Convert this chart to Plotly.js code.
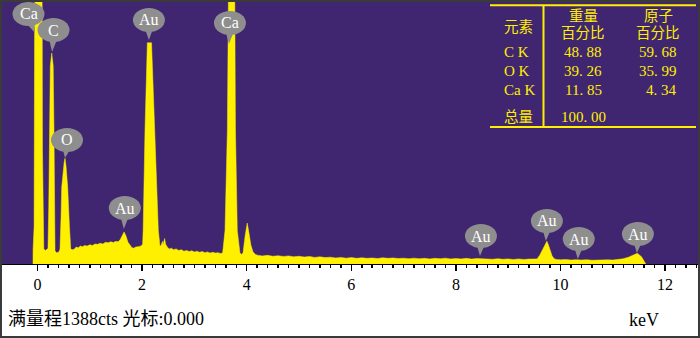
<!DOCTYPE html>
<html><head><meta charset="utf-8">
<script src="https://cdn.plot.ly/plotly-3.0.1.min.js"></script>
<style>
html,body{margin:0;padding:0;background:#fff;}
#frame{width:700px;height:338px;box-sizing:border-box;border:2px solid #3a3a3a;overflow:hidden;background:#fff;}
#chart{width:696px;height:334px;}
</style></head><body>
<div id="frame"><div id="chart"></div></div>
<script>
// ---- data (energy in keV, counts) ----
const energy = [
 -0.086,-0.085,-0.065,-0.058,-0.055,0.02,0.09,0.095,0.105,0.12,0.15,0.18,
 0.20,0.215,0.228,0.245,0.272,0.30,0.315,0.322,0.335,0.36,0.40,0.42,
 0.43,0.45,0.463,0.51,0.526,0.545,0.577,0.61,0.635,0.66,
 0.70,0.74,0.78,0.82,0.86,0.90,0.95,1.00,1.05,1.10,1.15,1.20,1.25,1.30,1.35,1.40,1.45,1.50,1.54,
 1.58,1.62,1.655,1.69,1.73,1.77,1.80,1.84,1.88,1.93,1.98,2.01,
 2.02,2.055,2.10,2.18,2.247,2.31,2.34,
 2.36,2.39,2.40,2.43,2.45,2.48,2.52,2.56,2.60,2.65,2.70,2.75,2.80,2.85,2.90,2.95,3.00,3.05,3.10,3.15,3.20,3.25,3.30,3.35,3.40,3.45,3.50,3.54,
 3.585,3.63,3.65,3.66,3.71,3.77,3.78,3.785,3.82,3.87,3.90,
 3.93,3.97,4.01,4.04,4.08,4.12,4.16,
 4.2,4.3,4.4,4.5,4.6,4.7,4.8,4.9,5.0,5.1,5.2,5.3,5.4,5.5,5.6,5.7,5.8,5.9,6.0,
 6.1,6.2,6.3,6.4,6.5,6.6,6.7,6.8,6.9,7.0,7.1,7.2,7.3,7.4,7.5,7.6,7.7,7.8,7.9,8.0,
 8.1,8.2,8.3,8.4,8.5,8.6,8.7,8.8,8.9,9.0,9.1,9.2,9.3,9.4,9.5,
 9.55,9.60,9.65,9.70,9.74,9.77,9.80,9.84,9.88,9.92,
 10.0,10.1,10.2,10.3,10.4,10.5,10.6,10.7,10.8,10.9,11.0,11.1,11.2,11.3,11.4,11.47,11.55,11.63
];
const counts = [
 0,75,200,600,1300,3800,1300,600,200,80,72,76,
 82,300,700,1050,1118,1050,700,300,70,60,62,70,
 82,250,406,540,560,520,406,200,82,75,
 78,90,86,95,92,98,95,102,98,106,104,110,106,115,112,118,114,120,118,
 128,155,170,150,115,100,88,84,90,92,96,105,
 178,709,1172,1172,709,178,98,
 95,120,100,135,105,90,80,84,76,80,72,76,68,72,66,70,64,68,62,66,60,64,58,62,58,60,56,58,
 178,709,1200,1500,3500,1500,1200,709,178,60,50,
 60,150,217,170,100,65,52,
 47,43,46,41,44,40,43,38,41,37,40,35,38,34,36,32,35,31,34,
 30,33,30,32,29,33,30,32,29,31,28,31,28,30,27,30,28,31,27,29,
 27,30,26,29,27,29,25,28,25,27,24,27,24,26,25,
 27,45,75,105,121,100,70,42,28,24,
 22,24,21,23,21,23,20,22,20,22,21,24,28,36,48,57,38,0
];
const fullScale = 1388;

// peak labels: name, tip energy (keV), tip counts
const peakNames = ['Ca','C','O','Au','Au','Ca','Au','Au','Au','Au'];
const peakTipE  = [-0.048,0.277,0.526,1.65,2.13,3.66,8.46,9.72,10.33,11.46];
const peakTipC  = [1224,1123,562,185,1187,1166,42,122,26,58];

// quantification table
const tableHeadElement = '元素';
const tableHeadWeight = ['重量','百分比'];
const tableHeadAtom = ['原子','百分比'];
const tableElements = ['C K','O K','Ca K'];
const weightPct = ['48. 88','39. 26','11. 85'];
const atomPct = ['59. 68','35. 99','4. 34'];
const totalLabel = '总量';
const totalWeight = '100. 00';

const xTickVals = [0,2,4,6,8,10,12];
const xTickText = ['0','2','4','6','8','10','12'];
const footerText = '满量程1388cts 光标:0.000';
const unitText = 'keV';

// ---- styling / geometry ----
const PURPLE = '#402570';
const YELLOW = '#fff000';
const BALLOON = '#8e8e8e';
const SERIF = '"Liberation Serif", "Times New Roman", "Noto Sans CJK SC", serif';
// label balloon centre offsets relative to tip (px, +up)
const balloonDx = [-6.5,1.5,2,1,0,1,1,1,1,1];
const balloonDy = [19,22,18,21,20,21,20,20,20,19];

// window pixel -> paper coordinates (plot area spans window x 2..698, y 2..264)
const px = X => (X - 2) / 696;
const py = Y => (264 - Y) / 262;

const minorVals = [];
for (let i = 0; i <= 63; i++) minorVals.push(+(i * 0.2).toFixed(2));

const shapes = [];
const annotations = [];

peakNames.forEach((name, i) => {
  const dx = balloonDx[i], dy = balloonDy[i];
  shapes.push({type:'path', xref:'x', yref:'y', xsizemode:'pixel', ysizemode:'pixel',
    xanchor: peakTipE[i], yanchor: peakTipC[i],
    path: `M ${dx-5},${dy-6} L 0,0 L ${dx+5},${dy-6} Z`,
    fillcolor: BALLOON, line:{width:0}, layer:'above'});
  shapes.push({type:'circle', xref:'x', yref:'y', xsizemode:'pixel', ysizemode:'pixel',
    xanchor: peakTipE[i], yanchor: peakTipC[i],
    x0: dx-16, x1: dx+16, y0: dy-12, y1: dy+12,
    fillcolor: BALLOON, line:{width:0}, layer:'above'});
  annotations.push({xref:'x', yref:'y', x: peakTipE[i], y: peakTipC[i],
    xshift: dx, yshift: dy, text: name, showarrow:false,
    font:{family:SERIF, size:16, color:'#ffffff'}, xanchor:'center', yanchor:'middle'});
});

// table lines
const tl = {color: YELLOW, width: 2};
shapes.push({type:'line', xref:'paper', yref:'paper', x0:px(490), x1:px(696), y0:py(5.2), y1:py(5.2), line:tl});
shapes.push({type:'line', xref:'paper', yref:'paper', x0:px(490), x1:px(696), y0:py(127), y1:py(127), line:tl});
shapes.push({type:'line', xref:'paper', yref:'paper', x0:px(543.5), x1:px(543.5), y0:py(5.2), y1:py(127), line:tl});

function txt(text, X, Y, anchor, size, color) {
  annotations.push({xref:'paper', yref:'paper', x:px(X), y:py(Y), text:text, showarrow:false,
    xanchor:anchor, yanchor:'middle', font:{family:SERIF, size:size, color:color}});
}
const tableFont = 15;
txt(tableHeadElement, 502, 26.7, 'left', 14.5, YELLOW);
txt(tableHeadWeight[0], 583, 15.7, 'center', 14.5, YELLOW);
txt(tableHeadWeight[1], 583, 32.5, 'center', 14.5, YELLOW);
txt(tableHeadAtom[0], 658, 15.7, 'center', 14.5, YELLOW);
txt(tableHeadAtom[1], 657.5, 32.5, 'center', 14.5, YELLOW);
const rowY = [52, 71.3, 90.3];
tableElements.forEach((el, i) => {
  txt(el, 502, rowY[i], 'left', tableFont, YELLOW);
  txt(weightPct[i], 583, rowY[i], 'center', tableFont, YELLOW);
  txt(atomPct[i], 679, rowY[i], 'right', tableFont, YELLOW);
});
txt(totalLabel, 502, 116.5, 'left', 14.5, YELLOW);
txt(totalWeight, 583, 116.5, 'center', tableFont, YELLOW);

// footer
txt(footerText, 6, 318.5, 'left', 18, '#000');
txt(unitText, 627, 319.5, 'left', 18, '#000');

const trace = {
  x: energy, y: counts, type:'scatter', mode:'lines',
  line:{color: YELLOW, width: 0.5}, fill:'tozeroy', fillcolor: YELLOW,
  hoverinfo:'skip'
};

const layout = {
  width: 696, height: 334,
  margin:{l:0, r:0, t:0, b:72, pad:0},
  paper_bgcolor:'#ffffff', plot_bgcolor: PURPLE,
  showlegend:false,
  xaxis:{range:[-0.679, 12.629], tickmode:'array', tickvals:xTickVals, ticktext:xTickText,
    ticks:'outside', ticklen:6, tickwidth:1.5, tickcolor:'#000',
    showgrid:false, zeroline:false, showline:true, linecolor:'#000', linewidth:1,
    tickfont:{family:SERIF, size:16, color:'#000'},
    minor:{tickmode:'array', tickvals:minorVals, ticks:'outside', ticklen:3, tickwidth:1.5, tickcolor:'#000', showgrid:false},
    fixedrange:true},
  yaxis:{range:[0, fullScale], visible:false, fixedrange:true, showgrid:false, zeroline:false},
  shapes: shapes,
  annotations: annotations
};

Plotly.newPlot('chart', [trace], layout, {displayModeBar:false, staticPlot:true});
</script>
</body></html>
